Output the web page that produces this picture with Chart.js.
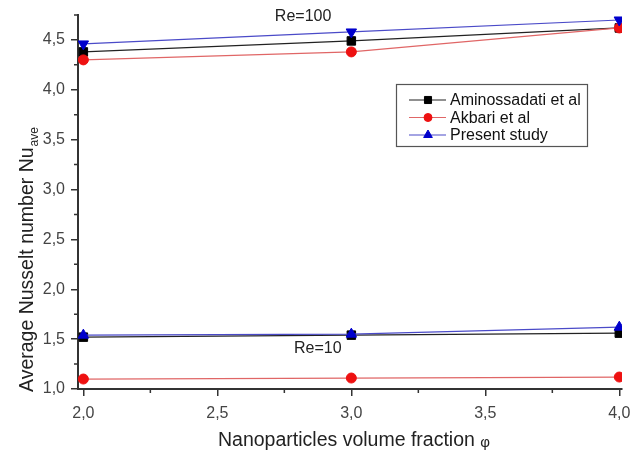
<!DOCTYPE html>
<html>
<head>
<meta charset="utf-8">
<script src="https://cdn.jsdelivr.net/npm/chart.js@4/dist/chart.umd.min.js"></script>
<style>
  body { margin: 0; background: #fff; }
</style>
</head>
<body>
<canvas id="nuChart" width="631" height="450"></canvas>
<script>
// volume fraction (%) on the x axis
const phi = [2, 3, 4];

// Re = 100
const aminRe100 = [4.38, 4.49, 4.62];
const akbariRe100 = [4.30, 4.38, 4.62];
const presentRe100 = [4.46, 4.58, 4.70];

// Re = 10
const aminRe10 = [1.52, 1.54, 1.56];
const akbariRe10 = [1.10, 1.11, 1.12];
const presentRe10 = [1.54, 1.55, 1.62];

const seriesNames = ['Aminossadati et al', 'Akbari et al', 'Present study'];
const xTicks = [2.0, 2.5, 3.0, 3.5, 4.0];
const yTicks = [1.0, 1.5, 2.0, 2.5, 3.0, 3.5, 4.0, 4.5];
const xMinor = [2.25, 2.75, 3.25, 3.75];
const yMinor = [1.25, 1.75, 2.25, 2.75, 3.25, 3.75, 4.25, 4.75];

const FONT = '"Liberation Sans", Arial, sans-serif';

const styles = [
  { line: '#222222', fill: '#000000', pointStyle: 'rect', radius: 6, order: 3 },
  { line: '#e06666', fill: '#ee1111', pointStyle: 'circle', radius: 5, order: 2 },
  { line: '#4a4ac8', fill: '#0000cc', pointStyle: 'triangle', radius: 6, order: 1 }
];

function pts(values) {
  return phi.map((x, i) => ({ x: x, y: values[i] }));
}

function makeSet(idx, values, rotation) {
  const s = styles[idx];
  return {
    label: seriesNames[idx],
    data: pts(values),
    borderColor: s.line,
    borderWidth: 1.2,
    backgroundColor: s.fill,
    pointBackgroundColor: s.fill,
    pointBorderColor: s.fill,
    pointBorderWidth: 1,
    pointStyle: s.pointStyle,
    pointRadius: s.radius,
    pointRotation: rotation || 0,
    order: s.order,
    tension: 0
  };
}

const fmt = v => Number(v).toFixed(1).replace('.', ',');

// minor ticks, axis titles, Re labels and the boxed legend
const extras = {
  id: 'extras',
  afterDraw(chart) {
    const ctx = chart.ctx;
    const area = chart.chartArea;
    const xs = chart.scales.x;
    const ys = chart.scales.y;
    ctx.save();

    ctx.strokeStyle = '#333';
    ctx.lineWidth = 1.5;
    ctx.beginPath();
    xMinor.forEach(v => {
      const px = xs.getPixelForValue(v);
      ctx.moveTo(px, area.bottom);
      ctx.lineTo(px, area.bottom + 4);
    });
    yMinor.forEach(v => {
      const py = ys.getPixelForValue(v);
      ctx.moveTo(area.left, py);
      ctx.lineTo(area.left - 4, py);
    });
    ctx.stroke();

    // x title
    ctx.fillStyle = '#222';
    ctx.textBaseline = 'alphabetic';
    ctx.font = '19.5px ' + FONT;
    const xt = 'Nanoparticles volume fraction ';
    ctx.font = '15px ' + FONT;
    const phiW = ctx.measureText('φ').width;
    ctx.font = '19.5px ' + FONT;
    const xtW = ctx.measureText(xt).width;
    let sx = 354 - (xtW + phiW) / 2;
    ctx.textAlign = 'left';
    ctx.fillText(xt, sx, 446);
    ctx.font = '15px ' + FONT;
    ctx.fillText('φ', sx + xtW, 447);

    // y title with subscript
    ctx.save();
    ctx.translate(33, 392);
    ctx.rotate(-Math.PI / 2);
    ctx.font = '19.5px ' + FONT;
    const yt = 'Average Nusselt number Nu';
    ctx.fillText(yt, 0, 0);
    const ytW = ctx.measureText(yt).width;
    ctx.font = '12px ' + FONT;
    ctx.fillText('ave', ytW + 1, 5);
    ctx.restore();

    // Reynolds number labels
    ctx.font = '16px ' + FONT;
    ctx.textAlign = 'center';
    ctx.fillStyle = '#222';
    ctx.fillText('Re=100', xs.getPixelForValue(2.82), ys.getPixelForValue(4.69));
    ctx.fillText('Re=10', xs.getPixelForValue(2.875), ys.getPixelForValue(1.36));

    // legend
    const lx = 396, ly = 84, lw = 191, lh = 62;
    ctx.fillStyle = '#fff';
    ctx.fillRect(lx, ly, lw, lh);
    ctx.strokeStyle = '#555';
    ctx.lineWidth = 1.2;
    ctx.strokeRect(lx + 0.5, ly + 0.5, lw, lh);
    ctx.font = '16px ' + FONT;
    ctx.textAlign = 'left';
    ctx.textBaseline = 'middle';
    seriesNames.forEach((name, i) => {
      const s = styles[i];
      const ry = ly + 16 + i * 17.5;
      ctx.strokeStyle = s.line;
      ctx.lineWidth = 1.2;
      ctx.beginPath();
      ctx.moveTo(409, ry);
      ctx.lineTo(446, ry);
      ctx.stroke();
      ctx.fillStyle = s.fill;
      ctx.strokeStyle = s.fill;
      ctx.lineWidth = 1;
      Chart.helpers.drawPoint(ctx, { pointStyle: s.pointStyle, radius: s.radius - 1, rotation: 0, borderWidth: 1 }, 428, ry);
      ctx.fillStyle = '#111';
      ctx.fillText(name, 450, ry + 1);
    });

    ctx.restore();
  }
};

new Chart(document.getElementById('nuChart'), {
  type: 'line',
  data: {
    datasets: [
      makeSet(0, aminRe100),
      makeSet(1, akbariRe100),
      makeSet(2, presentRe100, 180),
      makeSet(0, aminRe10),
      makeSet(1, akbariRe10),
      makeSet(2, presentRe10)
    ]
  },
  options: {
    responsive: false,
    animation: false,
    layout: { padding: { top: 15, right: 9, bottom: 0, left: 0 } },
    plugins: {
      legend: { display: false },
      tooltip: { enabled: false }
    },
    scales: {
      x: {
        type: 'linear',
        min: 1.98,
        max: 4.01,
        afterBuildTicks: s => { s.ticks = xTicks.map(v => ({ value: v })); },
        afterFit: s => { s.height = 61; s.paddingLeft = 0; s.paddingRight = 0; },
        ticks: {
          callback: fmt,
          color: '#444',
          font: { family: FONT, size: 16 },
          padding: 8,
          maxRotation: 0
        },
        grid: { drawOnChartArea: false, tickLength: 7, color: '#333', lineWidth: 1.5 },
        border: { color: '#333', width: 2 }
      },
      y: {
        type: 'linear',
        min: 1.0,
        max: 4.75,
        afterBuildTicks: s => { s.ticks = yTicks.map(v => ({ value: v })); },
        afterFit: s => { s.width = 78; s.paddingTop = 0; s.paddingBottom = 0; },
        ticks: {
          callback: fmt,
          color: '#444',
          font: { family: FONT, size: 16 },
          padding: 6
        },
        grid: { drawOnChartArea: false, tickLength: 7, color: '#333', lineWidth: 1.5 },
        border: { color: '#333', width: 2 }
      }
    }
  },
  plugins: [extras]
});
</script>
</body>
</html>
